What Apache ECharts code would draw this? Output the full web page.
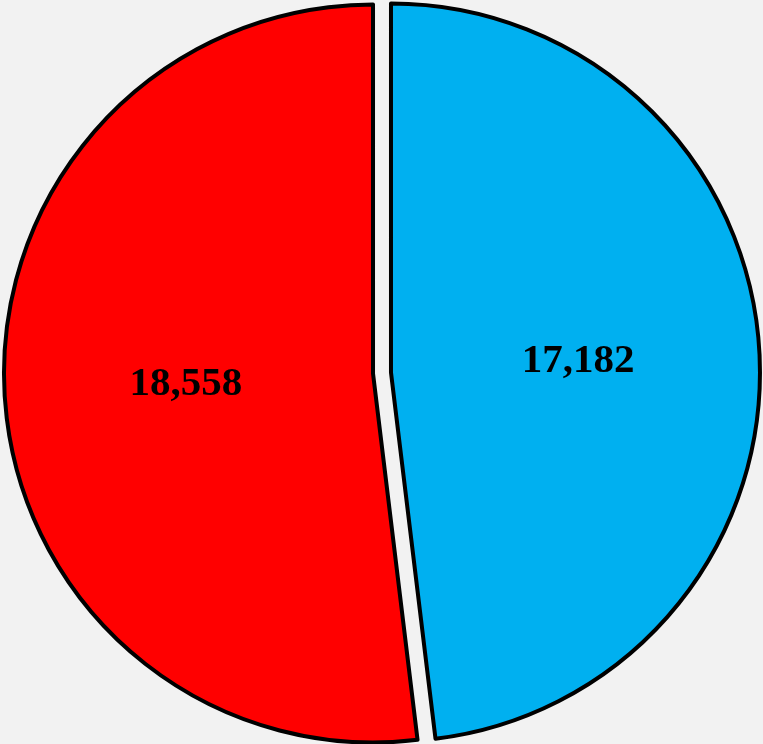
<!DOCTYPE html>
<html>
<head>
<meta charset="utf-8">
<script src="https://cdn.jsdelivr.net/npm/echarts@6/dist/echarts.min.js"></script>
<style>
html, body { margin: 0; padding: 0; background: #f2f2f2; }
#chart { width: 763px; height: 744px; }
</style>
</head>
<body>
<div id="chart"></div>
<script>
var sliceNames = ['A', 'B'];
var sliceValues = [17182, 18558];
var sliceColors = ['#00b0f0', '#ff0000'];

var chart = echarts.init(document.getElementById('chart'));

var data = sliceValues.map(function (v, i) {
    return {
        name: sliceNames[i],
        value: v,
        selected: true,
        itemStyle: { color: sliceColors[i] }
    };
});

var options = {
    backgroundColor: '#f2f2f2',
    animation: false,
    series: [
        {
            type: 'pie',
            center: [382, 373],
            radius: [0, 369],
            startAngle: 90,
            clockwise: true,
            selectedMode: 'multiple',
            selectedOffset: 9,
            itemStyle: {
                borderColor: '#000',
                borderWidth: 4
            },
            label: {
                show: true,
                position: 'inside',
                formatter: function (p) {
                    return p.value.toLocaleString('en-US');
                },
                fontFamily: '"Liberation Serif", "Times New Roman", serif',
                fontWeight: 'bold',
                fontSize: 41,
                color: '#000',
                padding: [4, 0, 0, 0]
            },
            labelLine: { show: false },
            emphasis: { disabled: true },
            data: data
        }
    ]
};

chart.setOption(options);
</script>
</body>
</html>
